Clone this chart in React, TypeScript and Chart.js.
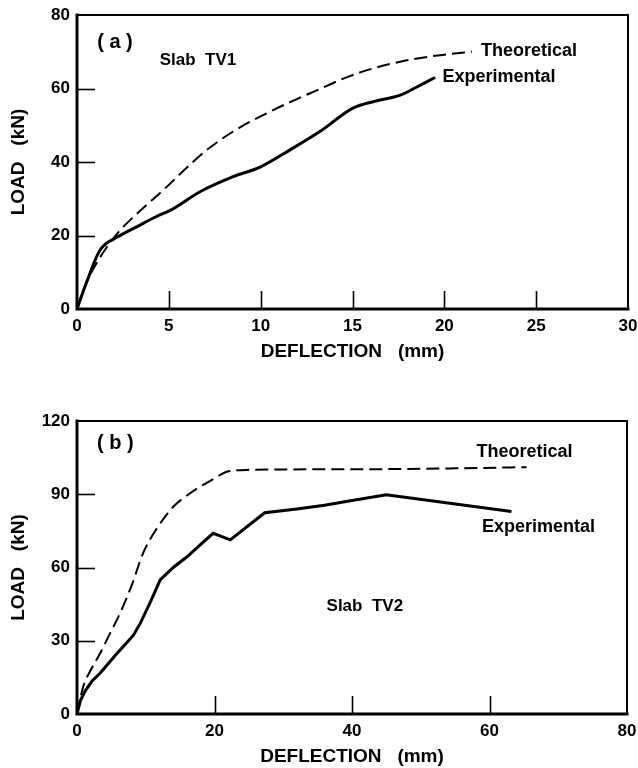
import React, { useEffect, useRef } from "react";
import { Chart, registerables } from "chart.js";

Chart.register(...registerables);

// ---------- Data ----------
// Slab TV1
const tv1ExpDeflection = [0, 0.5, 1.25, 2.25, 3.3, 4.3, 5.1, 6.7, 8.5, 10.0, 11.6, 13.2, 15.0, 16.2, 17.6, 18.5, 19.5];
const tv1ExpLoad = [0, 7, 16, 19.7, 22.5, 25.1, 26.9, 31.9, 36, 38.7, 43.3, 48.2, 54.6, 56.5, 58.2, 60.4, 63.0];
const tv1TheoDeflection = [0, 0.5, 1.25, 2.2, 3.5, 4.9, 6.0, 7.1, 8.5, 10.3, 12.0, 13.2, 14.5, 15.8, 17.6, 19.5, 21.5];
const tv1TheoLoad = [0, 7, 14, 20.6, 27, 33.3, 38.6, 43.4, 48.3, 53.2, 57.2, 59.8, 62.7, 65.0, 67.3, 68.9, 70.0];

// Slab TV2
const tv2ExpDeflection = [0, 0.5, 1.2, 2.2, 3.35, 4.5, 5.8, 7, 8.2, 9.2, 10.7, 12.1, 14, 16, 18, 19.8, 22.3, 27.3, 32, 36, 40, 45, 63.2];
const tv2ExpLoad = [0, 5.5, 9.5, 13.5, 16.7, 20.5, 24.8, 28.5, 32.3, 37.1, 46, 54.9, 60, 64.4, 69.5, 74, 71.3, 82.4, 84, 85.5, 87.4, 89.8, 82.9];
const tv2TheoDeflection = [0, 0.9, 2, 3.35, 4.8, 6.25, 8, 9.6, 11.5, 14, 16, 17.9, 20, 21.8, 25, 35, 45, 55, 65.4];
const tv2TheoLoad = [0, 11.2, 18, 24.8, 33, 41.2, 53, 65.8, 75.5, 84.9, 89.5, 93.1, 96.5, 99.2, 100, 100.2, 100.3, 100.6, 101.1];

// Tick labels
const tv1XTicks = [0, 5, 10, 15, 20, 25, 30];
const tv1YTicks = [0, 20, 40, 60, 80];
const tv2XTicks = [0, 20, 40, 60, 80];
const tv2YTicks = [0, 30, 60, 90, 120];

const xTitle = "DEFLECTION   (mm)";
const yTitle = "LOAD   (kN)";

type Note = { text: string; x: number; y: number; size: number };

const tv1Notes: Note[] = [
  { text: "( a )", x: 1.1, y: 72.5, size: 20 },
  { text: "Slab  TV1", x: 4.5, y: 67.8, size: 17 },
  { text: "Theoretical", x: 22.0, y: 70.2, size: 18 },
  { text: "Experimental", x: 19.9, y: 63.0, size: 18 },
];

const tv2Notes: Note[] = [
  { text: "( b )", x: 2.9, y: 110.8, size: 20 },
  { text: "Theoretical", x: 58.1, y: 107.1, size: 18 },
  { text: "Experimental", x: 58.9, y: 76.6, size: 18 },
  { text: "Slab  TV2", x: 36.3, y: 44.0, size: 17 },
];

const FONT = '"Liberation Sans", Arial, Helvetica, sans-serif';

const toPoints = (xs: number[], ys: number[]) => xs.map((x, i) => ({ x, y: ys[i] }));

const extrasPlugin = (notes: Note[], xTicks: number[], yTicks: number[]) => ({
  id: "extras",
  afterDraw(chart: any) {
    const { ctx, chartArea: a, scales } = chart;
    const xs = scales.x;
    const ys = scales.y;
    ctx.save();
    ctx.strokeStyle = "#000";
    ctx.fillStyle = "#000";
    ctx.lineCap = "square";
    // frame: thin top/right, heavy left/bottom
    ctx.lineWidth = 2;
    ctx.beginPath();
    ctx.moveTo(a.left, a.top);
    ctx.lineTo(a.right, a.top);
    ctx.lineTo(a.right, a.bottom);
    ctx.stroke();
    ctx.lineWidth = 3;
    ctx.beginPath();
    ctx.moveTo(a.left, a.top);
    ctx.lineTo(a.left, a.bottom);
    ctx.lineTo(a.right, a.bottom);
    ctx.stroke();
    // inward tick marks
    ctx.lineWidth = 1.6;
    ctx.lineCap = "butt";
    const tl = 18;
    xTicks.slice(1, -1).forEach((v) => {
      const px = Math.round(xs.getPixelForValue(v)) + 0.5;
      ctx.beginPath();
      ctx.moveTo(px, a.bottom);
      ctx.lineTo(px, a.bottom - tl);
      ctx.stroke();
    });
    yTicks.slice(1, -1).forEach((v) => {
      const py = Math.round(ys.getPixelForValue(v)) + 0.5;
      ctx.beginPath();
      ctx.moveTo(a.left, py);
      ctx.lineTo(a.left + tl, py);
      ctx.stroke();
    });
    // annotations
    ctx.textAlign = "left";
    ctx.textBaseline = "middle";
    notes.forEach((n) => {
      ctx.font = `bold ${n.size}px ${FONT}`;
      ctx.fillText(n.text, xs.getPixelForValue(n.x), ys.getPixelForValue(n.y));
    });
    // axis titles
    ctx.font = `bold 19px ${FONT}`;
    ctx.textAlign = "center";
    ctx.fillText(xTitle, (a.left + a.right) / 2, a.bottom + 42.5);
    ctx.save();
    ctx.translate(19, (a.top + a.bottom) / 2);
    ctx.rotate(-Math.PI / 2);
    ctx.fillText(yTitle, 0, 0);
    ctx.restore();
    ctx.restore();
  },
});

function buildConfig(opts: {
  exp: { x: number; y: number }[];
  theo: { x: number; y: number }[];
  xMax: number;
  yMax: number;
  xTicks: number[];
  yTicks: number[];
  notes: Note[];
  padTop: number;
  padRight: number;
  xAxisHeight: number;
  expTension: number;
}): any {
  const tickFont = { family: FONT, size: 17, weight: "bold" as const };
  return {
    type: "line",
    data: {
      datasets: [
        {
          label: "Theoretical",
          data: opts.theo,
          borderColor: "#000",
          borderWidth: 2,
          borderDash: [13, 6],
          pointRadius: 0,
          fill: false,
          cubicInterpolationMode: "monotone",
        },
        {
          label: "Experimental",
          data: opts.exp,
          borderColor: "#000",
          borderWidth: 3,
          pointRadius: 0,
          fill: false,
          tension: opts.expTension,
          cubicInterpolationMode: opts.expTension > 0 ? "monotone" : "default",
        },
      ],
    },
    options: {
      responsive: false,
      animation: false,
      events: [],
      layout: { padding: { top: opts.padTop, right: opts.padRight, left: 0, bottom: 0 } },
      plugins: { legend: { display: false }, tooltip: { enabled: false }, title: { display: false } },
      scales: {
        x: {
          type: "linear",
          min: 0,
          max: opts.xMax,
          grid: { display: false, drawTicks: false },
          border: { display: false },
          afterBuildTicks: (s: any) => {
            s.ticks = opts.xTicks.map((v) => ({ value: v }));
          },
          ticks: { color: "#000", font: tickFont, padding: 7, autoSkip: false, maxRotation: 0 },
          afterFit: (s: any) => {
            s.height = opts.xAxisHeight;
            s.paddingLeft = 0;
            s.paddingRight = 0;
          },
        },
        y: {
          type: "linear",
          min: 0,
          max: opts.yMax,
          grid: { display: false, drawTicks: false },
          border: { display: false },
          afterBuildTicks: (s: any) => {
            s.ticks = opts.yTicks.map((v) => ({ value: v }));
          },
          ticks: { color: "#000", font: tickFont, padding: 7, autoSkip: false },
          afterFit: (s: any) => {
            s.width = 77;
            s.paddingTop = 0;
            s.paddingBottom = 0;
          },
        },
      },
    },
    plugins: [extrasPlugin(opts.notes, opts.xTicks, opts.yTicks)],
  };
}

export default function App() {
  const refA = useRef<HTMLCanvasElement>(null);
  const refB = useRef<HTMLCanvasElement>(null);

  useEffect(() => {
    const chartA = new Chart(
      refA.current as HTMLCanvasElement,
      buildConfig({
        exp: toPoints(tv1ExpDeflection, tv1ExpLoad),
        theo: toPoints(tv1TheoDeflection, tv1TheoLoad),
        xMax: 30,
        yMax: 80,
        xTicks: tv1XTicks,
        yTicks: tv1YTicks,
        notes: tv1Notes,
        padTop: 15,
        padRight: 10,
        xAxisHeight: 372 - 309,
        expTension: 0.4,
      })
    );
    const chartB = new Chart(
      refB.current as HTMLCanvasElement,
      buildConfig({
        exp: toPoints(tv2ExpDeflection, tv2ExpLoad),
        theo: toPoints(tv2TheoDeflection, tv2TheoLoad),
        xMax: 80,
        yMax: 120,
        xTicks: tv2XTicks,
        yTicks: tv2YTicks,
        notes: tv2Notes,
        padTop: 49,
        padRight: 11,
        xAxisHeight: 396 - 342,
        expTension: 0,
      })
    );
    return () => {
      chartA.destroy();
      chartB.destroy();
    };
  }, []);

  return (
    <div style={{ position: "absolute", left: 0, top: 0, width: 638, height: 768, background: "#fff" }}>
      <canvas ref={refA} width={638} height={372} style={{ position: "absolute", left: 0, top: 0, width: 638, height: 372 }} />
      <canvas ref={refB} width={638} height={396} style={{ position: "absolute", left: 0, top: 372, width: 638, height: 396 }} />
    </div>
  );
}
